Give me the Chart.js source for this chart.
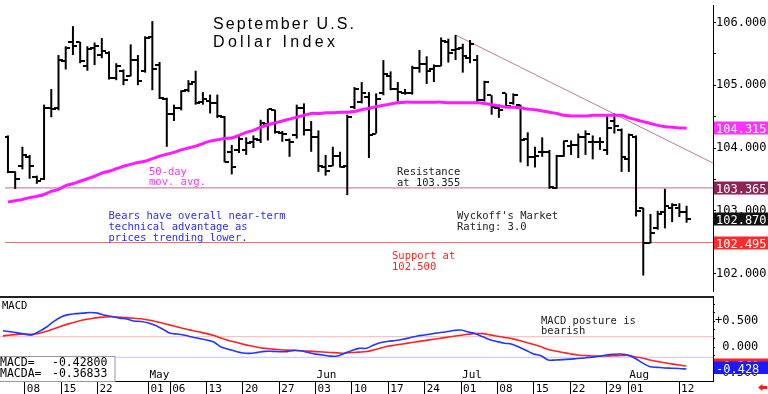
<!DOCTYPE html>
<html><head><meta charset="utf-8">
<script src="https://cdn.jsdelivr.net/npm/chart.js@4.4.1/dist/chart.umd.min.js"></script>
<style>
html,body{margin:0;padding:0;background:#fff;overflow:hidden}
#wrap{position:relative;width:768px;height:394px;background:#fff}
canvas{position:absolute;left:0;display:block}
</style></head><body>
<div id="wrap">
<canvas id="price" width="768" height="296" style="top:0;width:768px;height:296px"></canvas>
<canvas id="macd" width="768" height="98" style="top:296px;width:768px;height:98px"></canvas>
</div>
<script>
// ---------- DATA ----------
const days = ['04-03','04-04','04-05','04-08','04-09','04-10','04-11','04-12','04-15','04-16','04-17','04-18','04-19','04-22','04-23','04-24','04-25','04-26','04-29','04-30',
'05-01','05-02','05-03','05-06','05-07','05-08','05-09','05-10','05-13','05-14','05-15','05-16','05-17','05-20','05-21','05-22','05-23','05-24','05-27','05-28','05-29','05-30','05-31',
'06-03','06-04','06-05','06-06','06-07','06-10','06-11','06-12','06-13','06-14','06-17','06-18','06-19','06-20','06-21','06-24','06-25','06-26','06-27','06-28',
'07-01','07-02','07-03','07-04','07-05','07-08','07-09','07-10','07-11','07-12','07-15','07-16','07-17','07-18','07-19','07-22','07-23','07-24','07-25','07-26','07-29','07-30','07-31',
'08-01','08-02','08-05','08-06','08-07','08-08','08-09','08-12','08-13'];

const openP = [104.18,103.62,103.72,103.85,103.54,103.51,104.63,104.63,105.38,105.69,
105.69,105.31,105.60,105.48,105.52,105.12,105.23,105.15,105.40,105.23,
105.77,105.32,104.78,104.54,104.63,104.92,105.05,104.74,104.75,104.71,
104.49,103.94,103.97,103.97,104.09,104.12,104.38,104.61,104.24,104.12,
104.20,104.64,104.28,104.17,103.69,103.71,103.87,103.71,104.65,104.74,
104.82,104.23,104.87,105.15,104.94,104.88,104.88,105.28,105.33,105.25,
105.30,105.69,105.56,105.60,105.43,105.40,104.77,104.84,104.63,104.87,
104.72,104.69,104.15,103.86,103.94,103.94,103.37,103.87,104.03,104.05,
104.17,104.10,104.10,103.97,104.43,104.28,103.82,104.18,103.05,102.48,
102.72,102.98,103.05,103.05,102.98];
const highP = [104.20,103.63,104.02,103.89,103.56,104.69,104.94,105.48,105.62,105.94,
105.69,105.62,105.68,105.75,105.54,105.35,105.25,105.65,105.48,105.78,
106.02,105.37,104.80,104.69,104.92,105.08,105.23,104.89,104.85,104.85,
104.51,104.05,104.20,104.17,104.20,104.45,104.62,104.61,104.27,104.15,
104.69,104.71,104.43,104.28,103.89,104.02,103.94,104.53,104.97,105.05,
104.89,104.87,105.40,105.22,105.05,104.94,105.31,105.56,105.46,105.33,
105.76,105.74,105.80,105.66,105.72,105.48,105.07,104.84,104.69,104.87,
104.87,104.69,104.25,104.02,104.17,103.97,103.89,104.12,104.12,104.23,
104.28,104.20,104.17,104.51,104.55,104.31,104.23,104.20,103.05,102.95,
103.00,103.35,103.12,103.12,103.08];
const lowP = [103.60,103.35,103.66,103.51,103.43,103.49,104.49,104.60,105.25,105.48,
105.35,105.23,105.32,105.43,105.09,105.08,105.00,105.14,105.00,105.20,
104.92,104.78,104.02,104.43,104.60,104.89,104.69,104.69,104.55,104.48,
103.77,103.58,103.92,103.89,104.00,104.08,104.12,104.23,104.10,103.86,
104.15,104.20,103.94,103.62,103.56,103.71,103.69,103.25,104.62,104.71,
103.84,104.23,104.84,104.92,104.74,104.85,104.85,105.20,105.02,105.05,
105.30,105.36,105.40,105.20,105.35,104.71,104.74,104.53,104.48,104.64,
104.69,103.77,103.71,103.69,103.86,103.35,103.35,103.86,103.89,103.84,
103.89,103.82,103.97,103.89,104.23,103.62,103.62,102.91,101.97,102.48,
102.70,102.72,102.82,102.90,102.81];
const closeP = [103.61,103.50,103.89,103.71,103.48,104.63,104.62,105.40,105.60,105.63,
105.38,105.58,105.63,105.54,105.11,105.31,105.08,105.40,105.06,105.75,
105.25,104.80,104.54,104.63,104.91,105.02,104.72,104.78,104.72,104.51,
103.78,103.69,104.15,104.08,104.15,104.40,104.62,104.25,104.22,104.10,
104.64,104.28,104.17,103.71,103.64,103.87,103.70,104.49,104.94,104.87,
104.20,104.78,105.18,104.94,104.89,104.88,105.28,105.33,105.23,105.30,
105.71,105.51,105.58,105.46,105.66,104.77,105.05,104.66,104.61,104.67,
104.85,104.12,103.86,103.88,103.94,103.38,103.88,104.11,104.05,104.17,
104.23,104.10,104.10,104.32,104.35,103.85,104.20,103.00,102.48,102.65,
102.95,103.08,103.10,102.98,102.87];
const ma50 = [103.14,103.16,103.18,103.21,103.23,103.26,103.31,103.34,103.40,103.43,
103.47,103.51,103.55,103.60,103.63,103.67,103.71,103.74,103.77,103.79,
103.83,103.87,103.90,103.93,103.97,104.00,104.03,104.07,104.11,104.13,
104.15,104.16,104.20,104.25,104.28,104.33,104.37,104.40,104.43,104.46,
104.49,104.52,104.55,104.55,104.56,104.56,104.57,104.57,104.58,104.61,
104.63,104.66,104.68,104.70,104.72,104.73,104.73,104.73,104.73,104.73,
104.73,104.72,104.72,104.72,104.72,104.72,104.71,104.69,104.67,104.65,
104.65,104.64,104.62,104.61,104.59,104.57,104.55,104.52,104.51,104.51,
104.51,104.52,104.52,104.52,104.52,104.52,104.48,104.45,104.42,104.39,
104.36,104.34,104.33,104.32,104.315];
const macdLine = [0.314,0.295,0.275,0.252,0.236,0.304,0.388,0.498,0.583,0.628,
0.647,0.657,0.670,0.657,0.615,0.592,0.560,0.544,0.505,0.495,
0.466,0.417,0.346,0.265,0.252,0.227,0.194,0.165,0.136,0.097,
0.000,-0.045,-0.084,-0.117,-0.123,-0.104,-0.084,-0.084,-0.091,-0.091,
-0.065,-0.074,-0.107,-0.139,-0.155,-0.178,-0.175,-0.120,-0.068,-0.026,
-0.026,0.039,0.087,0.112,0.126,0.149,0.181,0.214,0.233,0.256,
0.278,0.295,0.320,0.330,0.291,0.259,0.197,0.139,0.104,0.074,
0.055,-0.006,-0.068,-0.136,-0.171,-0.252,-0.252,-0.246,-0.236,-0.223,
-0.214,-0.197,-0.181,-0.155,-0.142,-0.136,-0.159,-0.223,-0.314,-0.382,
-0.395,-0.408,-0.412,-0.417,-0.428];
const signalLine = [0.216,0.233,0.246,0.246,0.246,0.267,0.304,0.356,0.403,0.449,
0.487,0.523,0.548,0.571,0.581,0.586,0.578,0.570,0.558,0.547,
0.524,0.496,0.461,0.425,0.390,0.353,0.321,0.291,0.260,0.222,
0.173,0.128,0.093,0.056,0.023,-0.005,-0.027,-0.041,-0.052,-0.061,
-0.066,-0.072,-0.081,-0.089,-0.098,-0.106,-0.114,-0.121,-0.107,-0.099,
-0.088,-0.057,-0.019,0.018,0.038,0.059,0.081,0.104,0.124,0.144,
0.166,0.187,0.209,0.229,0.248,0.262,0.260,0.236,0.210,0.186,
0.163,0.126,0.088,0.047,0.003,-0.047,-0.078,-0.106,-0.131,-0.155,
-0.166,-0.175,-0.175,-0.173,-0.170,-0.166,-0.162,-0.194,-0.218,-0.252,
-0.281,-0.307,-0.328,-0.350,-0.36833];
const macdLast = -0.42800, signalLast = -0.36833;

const tickDays = ['04-08','04-15','04-22','05-01','05-06','05-13','05-20','05-27','06-03','06-10','06-17','06-24','07-01','07-08','07-15','07-22','07-29','08-01','08-12'];
const tickLabels = ['08','15','22','01','06','13','20','27','03','10','17','24','01','08','15','22','29','01','12'];
const monthDays = ['05-01','06-03','07-01','08-01'];
const monthLabels = ['May','Jun','Jul','Aug'];
const priceTicks = [102,102.5,103,103.5,104,104.5,105,105.5,106];
const macdTicks = [-0.5,-0.3333,-0.1667,0,0.1667,0.3333,0.5,0.6667,0.8333];
const macdLabelled = [-0.5,0,0.5];

const resistance = 103.365, support = 102.495;
const trendDays = [62, 97.66];        // bar index of Jun 28 high to right edge
const trendVals = [105.80, 103.76];
const macdUpper = 0.2, macdLower = -0.2;

const hiVals = [104.315, 103.365, 102.870, 102.495];
const hiColors = ['#ff33ff', '#8e2456', '#111111', '#ff2a2a'];

// ---------- LAYOUT CONSTANTS ----------
const XMIN = -0.41, XMAX = 97.66;
const PMIN = 101.723, PMAX = 106.277;
const MMIN = -0.660, MMAX = 0.990;
const AXW = 55;
const MONO = '"DejaVu Sans Mono", "Liberation Mono", monospace';
const SANS = '"Liberation Sans", Arial, sans-serif';

function tickImg(side) {
  const c = document.createElement('canvas');
  c.width = 9; c.height = 2;
  const g = c.getContext('2d');
  g.fillStyle = '#000';
  if (side < 0) g.fillRect(0, 0, 4, 2); else g.fillRect(5, 0, 4, 2);
  return c;
}
const openImg = tickImg(-1), closeImg = tickImg(1);

function txt(ctx, s, x, y, font, color, ls) {
  ctx.save();
  ctx.font = font; ctx.fillStyle = color;
  ctx.textAlign = 'left'; ctx.textBaseline = 'alphabetic';
  if ('letterSpacing' in ctx) ctx.letterSpacing = (ls || 0) + 'px';
  ctx.fillText(s, x, y);
  ctx.restore();
}
function fitTxt(ctx, s, x, y, font, color, width) {
  ctx.save();
  ctx.font = font;
  if ('letterSpacing' in ctx) ctx.letterSpacing = '0px';
  const w = ctx.measureText(s).width;
  ctx.restore();
  txt(ctx, s, x, y, font, color, (width - w) / (s.length - 1));
}

const idx = days.map((d, i) => i);
const fixAxis = (w) => (s) => { s.width = w; s.paddingTop = 0; s.paddingBottom = 0; };

// ---------- PRICE CHART ----------
const priceAnno = {
  id: 'priceAnno',
  afterDraw(chart) {
    const ctx = chart.ctx, ys = chart.scales.y;
    fitTxt(ctx, 'September U.S.', 213, 29, '16px ' + SANS, '#000', 141);
    fitTxt(ctx, 'Dollar Index', 213, 46.5, '16px ' + SANS, '#000', 122);
    const f = '10.5px ' + MONO;
    txt(ctx, '50-day', 149, 175, f, '#ff33ff', 0);
    txt(ctx, 'mov. avg.', 149, 185, f, '#ff33ff', 0);
    txt(ctx, 'Resistance', 397, 175, f, '#222', 0);
    txt(ctx, 'at 103.355', 397, 185.5, f, '#222', 0);
    txt(ctx, 'Bears have overall near-term', 108.5, 219, f, '#2b2bff', 0);
    txt(ctx, 'technical advantage as', 108.5, 230, f, '#2b2bff', 0);
    txt(ctx, 'prices trending lower.', 108.5, 241, f, '#2b2bff', 0);
    txt(ctx, "Wyckoff's Market", 457, 219, f, '#222', 0);
    txt(ctx, 'Rating: 3.0', 457, 230, f, '#222', 0);
    txt(ctx, 'Support at', 392, 259, f, '#ff2020', 0);
    txt(ctx, '102.500', 392, 270, f, '#ff2020', 0);
    const x0 = chart.chartArea.right + 1;
    hiVals.forEach((v, k) => {
      const py = ys.getPixelForValue(v);
      ctx.fillStyle = hiColors[k];
      ctx.fillRect(x0, Math.round(py) - 6.5, 768 - x0, 13);
      txt(ctx, v.toFixed(3), 716, Math.round(py) + 4.5, '12px ' + MONO, '#fff', 0);
    });
  }
};

new Chart(document.getElementById('price'), {
  type: 'bar',
  data: {
    datasets: [
      { type: 'line', data: idx.map(i => ({ x: i, y: ma50[i] })), borderColor: '#ff1aff', borderWidth: 3,
        pointRadius: 0, tension: 0.35, order: 0 },
      { type: 'bar', data: idx.map(i => ({ x: i, y: [lowP[i], highP[i]] })), backgroundColor: '#000',
        barThickness: 2, inflateAmount: 0, borderWidth: 0, order: 1 },
      { type: 'scatter', data: idx.map(i => ({ x: i, y: openP[i] })), pointStyle: openImg, pointRadius: 3, order: 1 },
      { type: 'scatter', data: idx.map(i => ({ x: i, y: closeP[i] })), pointStyle: closeImg, pointRadius: 3, order: 1 },
      { type: 'line', data: [{ x: XMIN, y: resistance }, { x: XMAX, y: resistance }], borderColor: '#cc88aa',
        borderWidth: 1.2, pointRadius: 0, order: 2 },
      { type: 'line', data: [{ x: XMIN, y: support }, { x: XMAX, y: support }], borderColor: '#ff6a6a',
        borderWidth: 1.2, pointRadius: 0, order: 2 },
      { type: 'line', data: trendDays.map((d, k) => ({ x: d, y: trendVals[k] })), borderColor: '#c07a98',
        borderWidth: 1, pointRadius: 0, order: 2 }
    ]
  },
  options: {
    responsive: false, animation: false, events: [],
    layout: { padding: 0 },
    plugins: { legend: { display: false }, tooltip: { enabled: false } },
    scales: {
      x: { type: 'linear', min: XMIN, max: XMAX, display: false, offset: false },
      y: {
        position: 'right', min: PMIN, max: PMAX,
        afterFit: fixAxis(AXW),
        afterBuildTicks: s => { s.ticks = priceTicks.map(v => ({ value: v })); },
        ticks: { autoSkip: false, callback: v => (Math.abs(v - Math.round(v)) < 1e-6 ? v.toFixed(3) : ''),
                 font: { family: MONO, size: 12 }, color: '#000', padding: 0 },
        grid: { drawOnChartArea: false, drawTicks: true, tickLength: 3, color: '#000' },
        border: { display: true, color: '#000', width: 1 }
      }
    }
  },
  plugins: [priceAnno]
});

// ---------- MACD CHART ----------
const tickIdx = tickDays.map(d => days.indexOf(d));
const monthIdx = monthDays.map(d => days.indexOf(d));

const macdAnno = {
  id: 'macdAnno',
  afterDraw(chart) {
    const ctx = chart.ctx, xs = chart.scales.x, ys = chart.scales.y;
    const right = chart.chartArea.right;
    ctx.fillStyle = '#222';
    ctx.fillRect(0, 0, right, 2);
    txt(ctx, 'MACD', 2, 12.5, '10.5px ' + MONO, '#000', 0);
    txt(ctx, 'MACD posture is', 541, 27.5, '10.5px ' + MONO, '#222', 0);
    txt(ctx, 'bearish', 541, 38, '10.5px ' + MONO, '#222', 0);
    // legend box
    ctx.fillStyle = '#fff'; ctx.fillRect(0, 60, 115, 25);
    ctx.strokeStyle = '#999'; ctx.lineWidth = 1; ctx.strokeRect(-0.5, 60.5, 115.5, 25);
    txt(ctx, 'MACD=', 0, 70, '11.5px ' + MONO, '#000', 0);
    txt(ctx, macdLast.toFixed(5), 52, 70, '11.5px ' + MONO, '#000', 0);
    txt(ctx, 'MACDA=', 0, 81.3, '11.5px ' + MONO, '#000', 0);
    txt(ctx, signalLast.toFixed(5), 52, 81.3, '11.5px ' + MONO, '#000', 0);
    // months
    monthIdx.forEach((v, k) => txt(ctx, monthLabels[k], xs.getPixelForValue(v) + 1, 81.5, '11px ' + MONO, '#000', 0));
    // day labels
    tickIdx.forEach((v, k) => txt(ctx, tickLabels[k], xs.getPixelForValue(v) + 2, 96, '11px ' + MONO, '#000', 0));
    // value boxes
    const x0 = right + 1;
    [[signalLast, '#ff2020'], [macdLast, '#1a1aff']].forEach(([v, c]) => {
      const py = Math.round(ys.getPixelForValue(v));
      ctx.fillStyle = c; ctx.fillRect(x0, py - 7.5, 768 - x0, 12.5);
      txt(ctx, v.toFixed(3), 716, py + 3.5, '12px ' + MONO, '#fff', 0);
    });
    // red arrow
    ctx.fillStyle = '#ff1a1a';
    ctx.beginPath(); ctx.moveTo(758, 91.5); ctx.lineTo(762.5, 88); ctx.lineTo(762.5, 95); ctx.closePath(); ctx.fill();
    ctx.fillRect(762, 90, 5, 3);
  }
};

new Chart(document.getElementById('macd'), {
  type: 'line',
  data: {
    datasets: [
      { data: idx.map(i => ({ x: i, y: macdLine[i] })), borderColor: '#2038ff', borderWidth: 1.6, pointRadius: 0, tension: 0.3, order: 0 },
      { data: idx.map(i => ({ x: i, y: signalLine[i] })), borderColor: '#ff2222', borderWidth: 1.6, pointRadius: 0, tension: 0.3, order: 1 },
      { data: [{ x: XMIN, y: macdUpper }, { x: XMAX, y: macdUpper }], borderColor: '#ffb4b4', borderWidth: 1, pointRadius: 0, order: 2 },
      { data: [{ x: XMIN, y: macdLower }, { x: XMAX, y: macdLower }], borderColor: '#c4c4ff', borderWidth: 1, pointRadius: 0, order: 2 }
    ]
  },
  options: {
    responsive: false, animation: false, events: [],
    layout: { padding: 0 },
    plugins: { legend: { display: false }, tooltip: { enabled: false } },
    scales: {
      x: {
        type: 'linear', min: XMIN, max: XMAX, offset: false,
        afterFit: s => { s.height = 13; s.paddingLeft = 0; s.paddingRight = 0; },
        afterBuildTicks: s => { s.ticks = tickIdx.map(v => ({ value: v })); },
        ticks: { display: false, autoSkip: false },
        grid: { drawOnChartArea: false, drawTicks: true, tickLength: 13, color: '#000' },
        border: { display: true, color: '#000', width: 1 }
      },
      y: {
        position: 'right', min: MMIN, max: MMAX,
        afterFit: fixAxis(AXW),
        afterBuildTicks: s => { s.ticks = macdTicks.map(v => ({ value: v })); },
        ticks: {
          autoSkip: false,
          callback: v => {
            const hit = macdLabelled.find(m => Math.abs(m - v) < 1e-6);
            if (hit === undefined) return '';
            return hit > 0 ? '+' + hit.toFixed(3) : (hit < 0 ? hit.toFixed(3) : ' ' + hit.toFixed(3));
          },
          font: { family: MONO, size: 12 }, color: '#000', padding: 0
        },
        grid: { drawOnChartArea: false, drawTicks: true, tickLength: 2, color: '#000' },
        border: { display: true, color: '#000', width: 1 }
      }
    }
  },
  plugins: [macdAnno]
});
</script>
</body></html>
